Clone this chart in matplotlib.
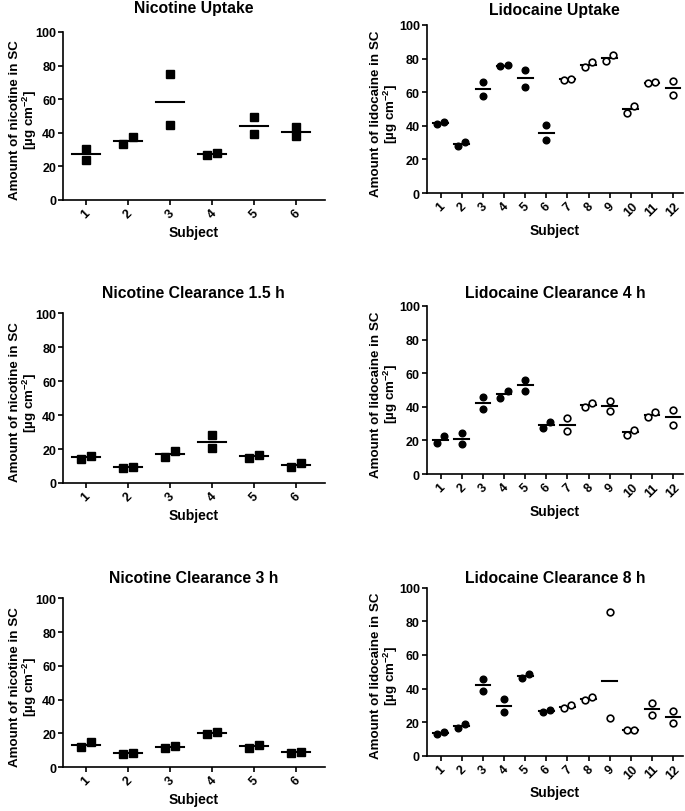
import matplotlib
matplotlib.use("Agg")
import matplotlib.pyplot as plt
import numpy as np

plt.rcParams['font.family'] = ['Liberation Sans', 'DejaVu Sans']
plt.rcParams['font.weight'] = 'bold'
plt.rcParams['mathtext.fontset'] = 'custom'
plt.rcParams['mathtext.rm'] = 'Liberation Sans:bold'
plt.rcParams['mathtext.default'] = 'rm'

# data: two replicates per subject + the drawn mean line
nic_subjects = [1, 2, 3, 4, 5, 6]
lid_subjects = list(range(1, 13))

nic_up_a = [23.8, 33.3, 44.8, 26.6, 39.1, 38.1]
nic_up_b = [30.6, 37.5, 75.0, 28.0, 49.4, 43.3]
nic_up_mean = [27.2, 35.3, 58.1, 27.4, 44.2, 40.7]

lid_up_a = [40.8, 28.1, 57.8, 75.4, 63.4, 31.3, 67.3, 75.0, 78.4, 47.9, 65.5, 58.4]
lid_up_b = [42.4, 30.5, 66.1, 76.0, 73.1, 40.4, 68.1, 77.8, 82.0, 51.7, 66.0, 66.5]
lid_up_mean = [41.6, 29.3, 61.8, 75.7, 68.3, 35.6, 67.7, 76.4, 80.2, 49.8, 65.7, 62.4]

nic_c15_a = [14.4, 9.0, 15.0, 20.5, 14.6, 9.6]
nic_c15_b = [15.9, 9.3, 18.9, 28.3, 16.5, 11.8]
nic_c15_mean = [15.2, 9.2, 16.9, 24.2, 15.6, 10.7]

lid_c4_a = [18.5, 17.7, 38.5, 45.4, 49.4, 27.2, 25.6, 40.1, 37.3, 23.4, 33.9, 29.4]
lid_c4_b = [22.4, 24.2, 45.6, 49.4, 56.2, 31.2, 33.1, 42.5, 43.5, 26.2, 36.9, 38.1]
lid_c4_mean = [20.4, 20.8, 42.1, 47.4, 52.8, 29.2, 29.4, 41.3, 40.4, 24.8, 35.4, 33.7]

nic_c3_a = [11.8, 7.9, 11.6, 19.5, 11.4, 8.5]
nic_c3_b = [15.0, 8.5, 12.6, 20.9, 13.4, 8.9]
nic_c3_mean = [13.4, 8.2, 12.1, 20.2, 12.4, 8.7]

lid_c8_a = [12.9, 16.4, 38.6, 26.1, 46.1, 26.3, 28.3, 32.9, 22.4, 15.6, 24.4, 19.4]
lid_c8_b = [14.3, 18.8, 45.7, 33.7, 48.5, 27.3, 30.3, 35.0, 85.7, 15.6, 31.3, 26.9]
lid_c8_mean = [13.6, 17.6, 42.1, 29.9, 47.3, 26.8, 29.3, 34.0, 44.2, 15.6, 27.7, 23.0]

nic_label = 'Amount of nicotine in SC\n[µg cm$^{-2}$]'
lid_label = 'Amount of lidocaine in SC\n[µg cm$^{-2}$]'

fig = plt.figure(figsize=(6.85, 8.12), dpi=100)


def panel(rect, title, pad, subjects, a, b, means, ylabel, lidocaine):
    ax = fig.add_axes(rect)
    n = len(subjects)
    if lidocaine:
        spread, half, ms, lab_x = 0.17, 0.35, 4.8, -27.0
    else:
        spread, half, ms, lab_x = 0.12, 0.33, 5.2, -24.0
    for i, s in enumerate(subjects):
        lo, hi = min(a[i], b[i]), max(a[i], b[i])
        if hi - lo < 5:
            xs = [s - spread, s + spread]
        else:
            xs = [s, s]
        if lidocaine and s > 6:
            ax.plot(xs, [lo, hi], 'o', ms=ms, mfc='white', mec='black', mew=1.2, ls='none', zorder=3)
        elif lidocaine:
            ax.plot(xs, [lo, hi], 'o', ms=ms, color='black', ls='none', zorder=3)
        else:
            ax.plot(xs, [lo, hi], 's', ms=ms, color='black', ls='none', zorder=3)
        ax.plot([s - half, s + half], [means[i], means[i]], color='black', lw=1.5, zorder=2)

    if lidocaine:
        ax.set_xlim(0.34, n + 0.47)
    else:
        ax.set_xlim(0.45, n + 0.69)
    ax.set_ylim(0, 100)
    ax.set_yticks([0, 20, 40, 60, 80, 100])
    ax.set_xticks(subjects)
    ax.set_xticklabels([str(s) for s in subjects], rotation=45, ha='center')
    ax.spines['top'].set_visible(False)
    ax.spines['right'].set_visible(False)
    ax.spines['left'].set_linewidth(1.2)
    ax.spines['bottom'].set_linewidth(1.2)
    ax.tick_params(width=1.2, length=3.5, labelsize=9, pad=1.5)
    ax.set_xlabel('Subject', fontsize=10, fontweight='bold', labelpad=3)
    ax.set_ylabel(ylabel, fontsize=9.6, fontweight='bold', linespacing=0.95)
    ax.yaxis.set_label_coords(lab_x / (rect[2] * 685), 0.48)
    ax.set_title(title, fontsize=11.3, fontweight='bold', pad=pad)
    return ax


panel([0.092, 0.7525, 0.382, 0.207], 'Nicotine Uptake', 14,
      nic_subjects, nic_up_a, nic_up_b, nic_up_mean, nic_label, False)
panel([0.623, 0.761, 0.374, 0.207], 'Lidocaine Uptake', 8,
      lid_subjects, lid_up_a, lid_up_b, lid_up_mean, lid_label, True)
panel([0.092, 0.404, 0.382, 0.209], 'Nicotine Clearance 1.5 h', 12,
      nic_subjects, nic_c15_a, nic_c15_b, nic_c15_mean, nic_label, False)
panel([0.623, 0.415, 0.374, 0.207], 'Lidocaine Clearance 4 h', 6.5,
      lid_subjects, lid_c4_a, lid_c4_b, lid_c4_mean, lid_label, True)
panel([0.092, 0.054, 0.382, 0.208], 'Nicotine Clearance 3 h', 12,
      nic_subjects, nic_c3_a, nic_c3_b, nic_c3_mean, nic_label, False)
panel([0.623, 0.068, 0.374, 0.207], 'Lidocaine Clearance 8 h', 4.3,
      lid_subjects, lid_c8_a, lid_c8_b, lid_c8_mean, lid_label, True)

fig.savefig('out.png', dpi=100)
